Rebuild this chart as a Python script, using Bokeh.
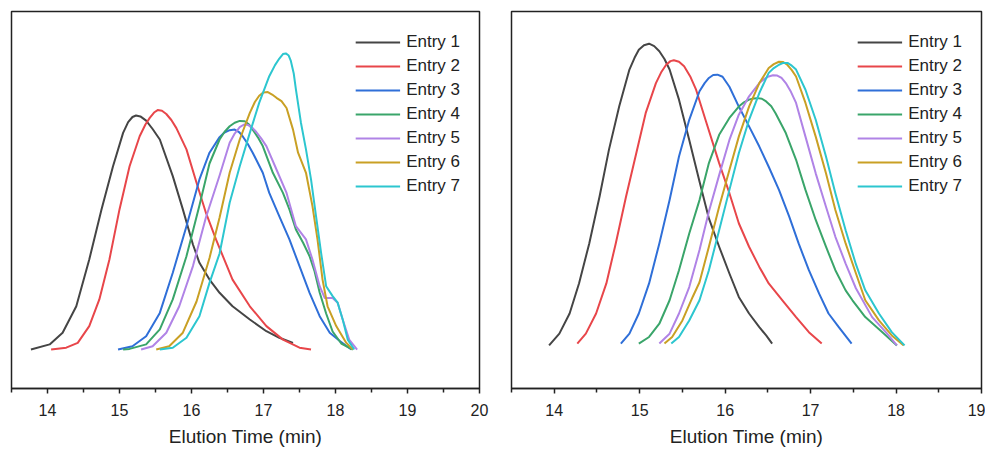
from bokeh.plotting import figure
from bokeh.layouts import row
from bokeh.models import Range1d, FixedTicker, Legend, LegendItem
from bokeh.embed import file_html
from bokeh.resources import INLINE

# ---------------- data ----------------
labels = ["Entry 1", "Entry 2", "Entry 3", "Entry 4", "Entry 5", "Entry 6", "Entry 7"]
colors = ["#454545", "#e8464a", "#2f6fd8", "#3aa56a", "#b083e6", "#c9a024", "#2cc6cf"]

major_ticks_a = [14, 15, 16, 17, 18, 19, 20]
major_ticks_b = [14, 15, 16, 17, 18, 19]
x_label = "Elution Time (min)"

# Panel A (left)
a_x1 = [13.77, 14.03, 14.21, 14.40, 14.58, 14.75, 14.91, 15.05, 15.12, 15.18, 15.23, 15.29, 15.37, 15.46, 15.56, 15.74, 15.88, 16.02, 16.11, 16.25, 16.39, 16.57, 16.81, 17.04, 17.22, 17.41]
a_y1 = [0.0, 0.017, 0.056, 0.144, 0.30, 0.467, 0.611, 0.722, 0.758, 0.775, 0.78, 0.777, 0.763, 0.735, 0.70, 0.578, 0.467, 0.35, 0.289, 0.233, 0.189, 0.144, 0.10, 0.061, 0.039, 0.022]

a_x2 = [14.05, 14.26, 14.42, 14.58, 14.72, 14.86, 15.0, 15.14, 15.28, 15.36, 15.42, 15.48, 15.53, 15.59, 15.65, 15.72, 15.79, 15.93, 16.07, 16.2, 16.34, 16.57, 16.81, 17.04, 17.27, 17.5, 17.66]
a_y2 = [0.0, 0.006, 0.022, 0.078, 0.167, 0.30, 0.467, 0.611, 0.711, 0.75, 0.772, 0.79, 0.798, 0.796, 0.785, 0.765, 0.738, 0.667, 0.556, 0.456, 0.367, 0.233, 0.144, 0.078, 0.033, 0.006, 0.0]

a_x3 = [14.98, 15.18, 15.37, 15.56, 15.74, 15.93, 16.11, 16.25, 16.39, 16.45, 16.53, 16.60, 16.66, 16.71, 16.78, 16.85, 16.99, 17.08, 17.22, 17.36, 17.5, 17.64, 17.78, 17.92, 18.06, 18.22]
a_y3 = [0.0, 0.011, 0.044, 0.122, 0.256, 0.411, 0.567, 0.656, 0.708, 0.722, 0.731, 0.733, 0.725, 0.711, 0.686, 0.656, 0.589, 0.522, 0.444, 0.367, 0.278, 0.189, 0.111, 0.056, 0.028, 0.0]

a_x4 = [15.05, 15.14, 15.37, 15.56, 15.74, 15.93, 16.11, 16.25, 16.39, 16.46, 16.53, 16.60, 16.67, 16.74, 16.80, 16.85, 16.92, 16.99, 17.13, 17.27, 17.36, 17.45, 17.55, 17.64, 17.71, 17.78, 17.87, 17.96, 18.08, 18.24]
a_y4 = [0.0, 0.002, 0.017, 0.067, 0.167, 0.311, 0.48, 0.62, 0.70, 0.726, 0.744, 0.756, 0.762, 0.761, 0.75, 0.733, 0.708, 0.678, 0.589, 0.522, 0.467, 0.40, 0.356, 0.311, 0.26, 0.19, 0.12, 0.06, 0.02, 0.0]

a_x5 = [15.30, 15.46, 15.65, 15.83, 16.02, 16.2, 16.39, 16.53, 16.60, 16.67, 16.73, 16.79, 16.85, 16.90, 16.97, 17.04, 17.18, 17.32, 17.45, 17.59, 17.68, 17.78, 17.85, 17.96, 18.03, 18.10, 18.19, 18.30]
a_y5 = [0.0, 0.011, 0.056, 0.144, 0.278, 0.44, 0.58, 0.689, 0.72, 0.741, 0.75, 0.748, 0.738, 0.725, 0.703, 0.678, 0.60, 0.522, 0.411, 0.367, 0.30, 0.211, 0.172, 0.172, 0.156, 0.10, 0.033, 0.0]

a_x6 = [15.51, 15.69, 15.88, 16.07, 16.25, 16.39, 16.53, 16.67, 16.81, 16.88, 16.94, 17.00, 17.06, 17.12, 17.18, 17.25, 17.32, 17.41, 17.48, 17.59, 17.68, 17.75, 17.82, 17.89, 18.01, 18.15, 18.24]
a_y6 = [0.0, 0.011, 0.056, 0.16, 0.305, 0.44, 0.589, 0.70, 0.789, 0.825, 0.846, 0.857, 0.858, 0.85, 0.839, 0.828, 0.805, 0.733, 0.656, 0.589, 0.478, 0.367, 0.233, 0.144, 0.078, 0.022, 0.0]

a_x7 = [15.56, 15.74, 15.93, 16.11, 16.25, 16.39, 16.53, 16.67, 16.81, 16.94, 17.08, 17.16, 17.22, 17.27, 17.31, 17.35, 17.38, 17.42, 17.45, 17.52, 17.59, 17.66, 17.73, 17.80, 17.87, 17.96, 18.03, 18.10, 18.17, 18.26]
a_y7 = [0.0, 0.006, 0.039, 0.111, 0.222, 0.32, 0.489, 0.611, 0.722, 0.822, 0.911, 0.948, 0.97, 0.985, 0.987, 0.98, 0.962, 0.92, 0.867, 0.756, 0.667, 0.567, 0.444, 0.322, 0.211, 0.178, 0.156, 0.10, 0.033, 0.0]

# Panel B (right)
b_x1 = [13.94, 14.06, 14.18, 14.29, 14.41, 14.53, 14.64, 14.76, 14.88, 14.94, 14.99, 15.05, 15.11, 15.17, 15.23, 15.29, 15.35, 15.46, 15.58, 15.70, 15.81, 15.93, 16.05, 16.16, 16.28, 16.40, 16.48, 16.55]
b_y1 = [0.0, 0.039, 0.106, 0.206, 0.339, 0.494, 0.65, 0.794, 0.917, 0.956, 0.983, 0.998, 1.003, 0.995, 0.978, 0.952, 0.917, 0.817, 0.683, 0.545, 0.422, 0.328, 0.239, 0.161, 0.106, 0.061, 0.033, 0.006]

b_x2 = [14.27, 14.37, 14.49, 14.61, 14.72, 14.84, 14.96, 15.07, 15.19, 15.25, 15.31, 15.36, 15.40, 15.46, 15.52, 15.59, 15.66, 15.77, 15.93, 16.05, 16.16, 16.28, 16.40, 16.51, 16.67, 16.83, 16.98, 17.13]
b_y2 = [0.006, 0.039, 0.106, 0.206, 0.339, 0.494, 0.639, 0.772, 0.872, 0.907, 0.933, 0.945, 0.948, 0.943, 0.928, 0.895, 0.85, 0.75, 0.606, 0.506, 0.406, 0.328, 0.261, 0.206, 0.15, 0.094, 0.044, 0.006]

b_x3 = [14.78, 14.88, 14.99, 15.11, 15.23, 15.35, 15.46, 15.58, 15.70, 15.76, 15.81, 15.86, 15.91, 15.97, 16.05, 16.16, 16.28, 16.40, 16.51, 16.63, 16.75, 16.86, 16.98, 17.10, 17.21, 17.33, 17.48]
b_y3 = [0.006, 0.039, 0.106, 0.206, 0.339, 0.483, 0.628, 0.75, 0.845, 0.872, 0.889, 0.899, 0.90, 0.893, 0.86, 0.794, 0.728, 0.661, 0.594, 0.517, 0.428, 0.339, 0.25, 0.172, 0.106, 0.061, 0.006]

b_x4 = [14.99, 15.11, 15.23, 15.35, 15.46, 15.58, 15.70, 15.81, 15.93, 16.05, 16.16, 16.22, 16.28, 16.33, 16.38, 16.43, 16.48, 16.54, 16.59, 16.71, 16.83, 16.94, 17.06, 17.18, 17.29, 17.41, 17.49, 17.64, 17.84, 18.01]
b_y4 = [0.006, 0.028, 0.072, 0.15, 0.25, 0.372, 0.483, 0.606, 0.70, 0.756, 0.794, 0.808, 0.817, 0.821, 0.822, 0.82, 0.811, 0.795, 0.772, 0.706, 0.617, 0.517, 0.417, 0.328, 0.25, 0.183, 0.15, 0.094, 0.044, 0.0]

b_x5 = [15.23, 15.35, 15.46, 15.58, 15.70, 15.81, 15.93, 16.05, 16.16, 16.28, 16.40, 16.46, 16.51, 16.56, 16.61, 16.66, 16.71, 16.77, 16.83, 16.94, 17.06, 17.18, 17.29, 17.41, 17.53, 17.72, 17.88, 18.01]
b_y5 = [0.006, 0.039, 0.106, 0.194, 0.317, 0.445, 0.566, 0.683, 0.767, 0.828, 0.872, 0.886, 0.894, 0.898, 0.897, 0.889, 0.872, 0.843, 0.806, 0.694, 0.572, 0.461, 0.361, 0.272, 0.19, 0.094, 0.044, 0.0]

b_x6 = [15.29, 15.38, 15.50, 15.62, 15.70, 15.81, 15.93, 16.05, 16.16, 16.28, 16.40, 16.51, 16.57, 16.63, 16.68, 16.73, 16.78, 16.83, 16.94, 17.06, 17.18, 17.29, 17.41, 17.53, 17.64, 17.80, 17.95, 18.09]
b_y6 = [0.006, 0.028, 0.083, 0.161, 0.21, 0.328, 0.461, 0.583, 0.694, 0.794, 0.872, 0.922, 0.935, 0.943, 0.942, 0.932, 0.915, 0.894, 0.806, 0.694, 0.572, 0.45, 0.339, 0.24, 0.15, 0.083, 0.033, 0.0]

b_x7 = [15.37, 15.46, 15.58, 15.70, 15.81, 15.93, 16.05, 16.16, 16.28, 16.40, 16.51, 16.57, 16.63, 16.68, 16.73, 16.78, 16.83, 16.94, 17.06, 17.18, 17.29, 17.41, 17.53, 17.64, 17.80, 17.95, 18.10]
b_y7 = [0.006, 0.028, 0.083, 0.15, 0.25, 0.383, 0.517, 0.639, 0.75, 0.839, 0.906, 0.922, 0.933, 0.939, 0.939, 0.93, 0.917, 0.85, 0.75, 0.628, 0.506, 0.383, 0.27, 0.183, 0.106, 0.044, 0.0]

FONT = "Liberation Sans"
TXT = "#222222"


def panel(xs, ys, x_end, y_start, y_end, ticks, frame_w, mb_left, mb_right):
    p = figure(frame_width=frame_w, frame_height=377,
               x_range=Range1d(13.5, x_end), y_range=Range1d(y_start, y_end),
               output_backend="svg", toolbar_location=None,
               y_axis_location=None,
               min_border_left=mb_left, min_border_right=mb_right,
               min_border_top=11, min_border_bottom=0)
    p.xgrid.visible = False
    p.ygrid.visible = False
    p.outline_line_color = "#222222"
    p.outline_line_width = 1.5
    p.outline_line_alpha = 1.0

    items = []
    for i in range(7):
        r = p.line(xs[i], ys[i], line_color=colors[i], line_width=2,
                   line_join="round")
        items.append(LegendItem(label=labels[i], renderers=[r]))

    minor = [t + 0.5 for t in ticks[:-1]] + [13.5]
    ax = p.xaxis[0]
    ax.ticker = FixedTicker(ticks=ticks, minor_ticks=minor)
    ax.axis_line_color = "#222222"
    ax.axis_line_width = 1.5
    ax.major_tick_line_color = "#222222"
    ax.major_tick_line_width = 1.5
    ax.minor_tick_line_color = "#222222"
    ax.minor_tick_line_width = 1.5
    ax.major_tick_in = 0
    ax.major_tick_out = 5
    ax.minor_tick_in = 0
    ax.minor_tick_out = 4
    ax.major_label_standoff = 10
    ax.major_label_text_font = FONT
    ax.major_label_text_font_size = "16px"
    ax.major_label_text_color = TXT
    ax.axis_label = x_label
    ax.axis_label_standoff = 7
    ax.axis_label_text_font = FONT
    ax.axis_label_text_font_size = "19px"
    ax.axis_label_text_font_style = "normal"
    ax.axis_label_text_color = TXT

    leg = Legend(items=items, location="top_right")
    leg.border_line_color = None
    leg.background_fill_alpha = 0
    leg.label_text_font = FONT
    leg.label_text_font_size = "17px"
    leg.label_text_color = TXT
    leg.glyph_width = 45
    leg.glyph_height = 24
    leg.label_height = 24
    leg.label_standoff = 6
    leg.spacing = 0
    leg.padding = 0
    leg.margin = 19
    p.add_layout(leg)
    return p


pa = panel([a_x1, a_x2, a_x3, a_x4, a_x5, a_x6, a_x7],
           [a_y1, a_y2, a_y3, a_y4, a_y5, a_y6, a_y7],
           20, -0.13, 1.1267, major_ticks_a, 468, 11, 16)
pb = panel([b_x1, b_x2, b_x3, b_x4, b_x5, b_x6, b_x7],
           [b_y1, b_y2, b_y3, b_y4, b_y5, b_y6, b_y7],
           19, -0.1433, 1.11, major_ticks_b, 470, 16, 4)

layout = row(pa, pb)
open("out.html", "w").write(file_html(layout, INLINE))
